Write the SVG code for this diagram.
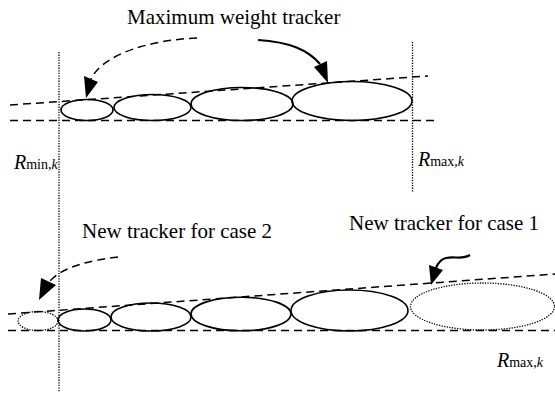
<svg xmlns="http://www.w3.org/2000/svg" width="555" height="393" viewBox="0 0 555 393">
<style>
.t{font-family:"Liberation Serif","Times New Roman",serif;fill:#000}
.lbl{font-size:21px}
.R{font-size:20px;font-style:italic}
.sub{font-size:14px;font-style:normal}
.it{font-style:italic}
.dash{fill:none;stroke:#000;stroke-width:1.5;stroke-dasharray:8 5}
.dot{fill:none;stroke:#000;stroke-width:1.3;stroke-dasharray:1.3 1.3}
.ell{fill:none;stroke:#000;stroke-width:1.6}
.sol{fill:none;stroke:#000;stroke-width:2.2}
.head{fill:#000;stroke:none}
</style>
<rect width="555" height="393" fill="#fff"/>
<g id="connectors">
  <line class="dot" x1="59" y1="52" x2="59" y2="392"/>
  <line class="dot" x1="412.5" y1="42" x2="412.5" y2="192"/>
  <line class="dash" x1="10" y1="120.5" x2="435" y2="120.5"/>
  <line class="dash" x1="10" y1="105" x2="428" y2="76"/>
  <line class="dash" x1="8" y1="330.5" x2="555" y2="330.5"/>
  <line class="dash" x1="8" y1="314" x2="555" y2="274"/>
  <path class="dash" d="M197,38 C150,40 103,54 91,79"/>
  <polygon class="head" points="84,76 98,82 86,98"/>
  <path class="sol" d="M258,40 C290,42 308,50 320,64"/>
  <polygon class="head" points="314,67 327,61 328,83"/>
  <path class="dash" d="M118,257 C92,260 64,266 50,281"/>
  <polygon class="head" points="41,278 56,285 39,300"/>
  <path class="sol" d="M470,255 C462,260 455,256 446,258 C441,259 438,263 436,268"/>
  <polygon class="head" points="429,265 443,270 431,285"/>
</g>
<g id="top-tracker-1"><ellipse class="ell" cx="87" cy="110" rx="26" ry="10.5"/></g>
<g id="top-tracker-2"><ellipse class="ell" cx="152.5" cy="107.5" rx="38.5" ry="13"/></g>
<g id="top-tracker-3"><ellipse class="ell" cx="242" cy="104" rx="51" ry="16.5"/></g>
<g id="top-tracker-4"><ellipse class="ell" cx="352" cy="101" rx="60" ry="19.5"/></g>
<g id="bottom-new-case2"><ellipse class="dot" cx="38" cy="321" rx="20" ry="9.5"/></g>
<g id="bottom-tracker-1"><ellipse class="ell" cx="84.5" cy="320" rx="26.5" ry="11"/></g>
<g id="bottom-tracker-2"><ellipse class="ell" cx="151" cy="317" rx="40" ry="14"/></g>
<g id="bottom-tracker-3"><ellipse class="ell" cx="241" cy="314" rx="50" ry="16.8"/></g>
<g id="bottom-tracker-4"><ellipse class="ell" cx="349.5" cy="310.5" rx="58.5" ry="20.5"/></g>
<g id="bottom-new-case1"><ellipse class="dot" cx="482.5" cy="306.5" rx="72" ry="23.5"/></g>
<g id="labels" font-family="Liberation Serif, Times New Roman, serif">
  <text class="t lbl" x="127" y="24">Maximum weight tracker</text>
  <text class="t lbl" x="82" y="238">New tracker for case 2</text>
  <text class="t lbl" x="349" y="230">New tracker for case 1</text>
  <text class="t R" x="14" y="169">R<tspan class="sub">min,</tspan><tspan class="sub it">k</tspan></text>
  <text class="t R" x="418" y="166">R<tspan class="sub">max,</tspan><tspan class="sub it">k</tspan></text>
  <text class="t R" x="497" y="367">R<tspan class="sub">max,</tspan><tspan class="sub it">k</tspan></text>
</g>
</svg>
